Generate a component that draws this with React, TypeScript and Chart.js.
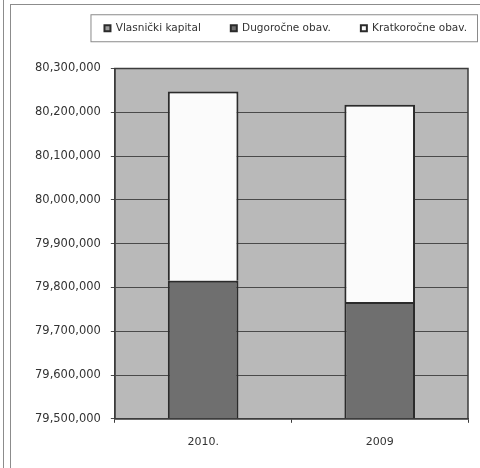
import React, { useEffect, useRef } from "react";
import { Chart, registerables } from "chart.js";

Chart.register(...registerables);

const categories = ["2010.", "2009"];
const seriesNames = ["Vlasnički kapital", "Dugoročne obav.", "Kratkoročne obav."];
const vlasnickiKapital = [79350000, 79350000];
const dugorocneObav = [465000, 416700];
const kratkorocneObav = [432600, 450300];
const yMin = 79500000;
const yMax = 80300000;
const yStep = 100000;

const FONT = "'DejaVu Sans', sans-serif";
const LEGEND_SHIFT_X = 29;
const LEGEND_SHIFT_Y = -25;

const framePlugin = {
  id: "frame",
  afterLayout(chart: any) {
    const lg = chart.legend;
    if (!lg) return;
    lg.left += LEGEND_SHIFT_X;
    lg.right += LEGEND_SHIFT_X;
    lg.top += LEGEND_SHIFT_Y;
    lg.bottom += LEGEND_SHIFT_Y;
  },
  beforeDraw(chart: any) {
    const { ctx, width, height, chartArea } = chart;
    ctx.save();
    ctx.fillStyle = "#ffffff";
    ctx.fillRect(0, 0, width, height);
    ctx.fillStyle = "#b9b9b9";
    ctx.fillRect(chartArea.left, chartArea.top, chartArea.right - chartArea.left, chartArea.bottom - chartArea.top);
    ctx.strokeStyle = "#8c8c8c";
    ctx.lineWidth = 1;
    ctx.beginPath();
    ctx.moveTo(3.5, 0);
    ctx.lineTo(3.5, height);
    ctx.moveTo(10.5, 4);
    ctx.lineTo(10.5, height);
    ctx.moveTo(10, 4.5);
    ctx.lineTo(width, 4.5);
    ctx.stroke();
    ctx.restore();
  },
  afterDraw(chart: any) {
    const { ctx, chartArea } = chart;
    ctx.save();
    ctx.strokeStyle = "#3c3c3c";
    ctx.lineWidth = 1.5;
    ctx.strokeRect(chartArea.left, chartArea.top, chartArea.right - chartArea.left, chartArea.bottom - chartArea.top);
    const lg = chart.legend;
    const hb = lg && lg.legendHitBoxes;
    if (hb && hb.length) {
      const first = hb[0];
      const last = hb[hb.length - 1];
      const left = first.left - 14;
      const right = last.left + last.width + 10;
      const cy = first.top + first.height / 2;
      ctx.strokeStyle = "#8a8a8a";
      ctx.lineWidth = 1;
      ctx.strokeRect(left + 0.5, cy - 13.5, right - left, 27);
    }
    ctx.restore();
  },
};

export default function App() {
  const ref = useRef<HTMLCanvasElement | null>(null);
  useEffect(() => {
    if (!ref.current) return;
    const border = "#2b2b2b";
    const common = { borderColor: border, borderWidth: 2, categoryPercentage: 0.8, barPercentage: 0.5 };
    const chart = new Chart(ref.current, {
      type: "bar",
      data: {
        labels: categories,
        datasets: [
          { label: seriesNames[0], data: vlasnickiKapital, backgroundColor: "#9a9a9a", ...common },
          { label: seriesNames[1], data: dugorocneObav, backgroundColor: "#6f6f6f", ...common },
          { label: seriesNames[2], data: kratkorocneObav, backgroundColor: "#fbfbfb", ...common },
        ],
      },
      options: {
        responsive: false,
        animation: false,
        devicePixelRatio: 1,
        layout: { padding: { top: 18, right: 12, left: 25, bottom: 6 } },
        plugins: {
          title: { display: false },
          tooltip: { enabled: false },
          legend: {
            display: true,
            position: "top",
            align: "end",
            labels: {
              boxWidth: 6,
              boxHeight: 6,
              padding: 30,
              color: "#333333",
              font: { family: FONT, size: 10.5 },
            },
          },
        },
        scales: {
          x: {
            stacked: true,
            offset: true,
            border: { display: true, color: "#3c3c3c", width: 1.5 },
            grid: { display: true, drawOnChartArea: false, offset: true, tickLength: 4, color: "#3c3c3c" },
            ticks: { color: "#333333", padding: 13, font: { family: FONT, size: 11 } },
          },
          y: {
            stacked: true,
            min: yMin,
            max: yMax,
            border: { display: true, color: "#3c3c3c", width: 1.5 },
            grid: { color: "#4a4a4a", lineWidth: 1, tickLength: 4 },
            ticks: {
              stepSize: yStep,
              color: "#333333",
              padding: 10,
              font: { family: FONT, size: 11.5 },
              callback: (v: any) => Number(v).toLocaleString("en-US"),
            },
          },
        },
      },
      plugins: [framePlugin],
    });
    return () => chart.destroy();
  }, []);
  return (
    <div style={{ position: "absolute", left: 0, top: 0, width: 480, height: 468, background: "#fff" }}>
      <canvas ref={ref} width={480} height={468} style={{ display: "block" }} />
    </div>
  );
}
